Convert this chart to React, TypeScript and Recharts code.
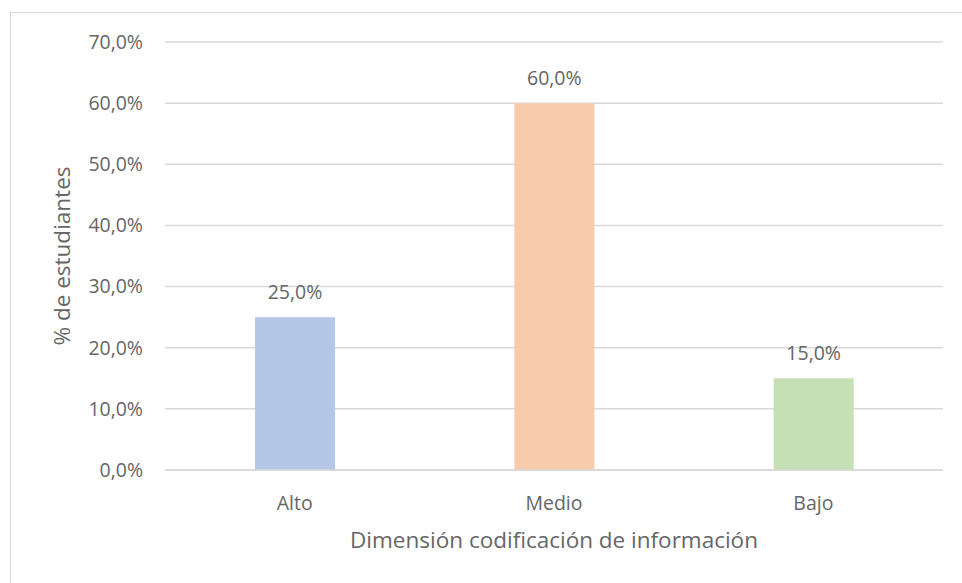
import React from 'react';
import { BarChart, Bar, XAxis, YAxis, CartesianGrid, Cell, LabelList, Label } from 'recharts';

const categories = ['Alto', 'Medio', 'Bajo'];
const values = [0.25, 0.6, 0.15];
const barColors = ['#b4c7e7', '#f8cbad', '#c5e0b4'];
const yTicks = [0, 0.1, 0.2, 0.3, 0.4, 0.5, 0.6, 0.7];
const xTitle = 'Dimensión codificación de información';
const yTitle = '% de estudiantes';

const data = categories.map((c, i) => ({ name: c, value: values[i] }));
const fmt = (v: number) => (v * 100).toFixed(1).replace('.', ',') + '%';

const FONT = '"Open Sans", Lato, sans-serif';
const TEXT = '#666666';
const TICK_SIZE = 19.5;
const TITLE_SIZE = 22.5;

export default function App() {
  return (
    <div style={{ position: 'absolute', left: 0, top: 0, width: 962, height: 583, background: '#fff', fontFamily: FONT }}>
      <div style={{ position: 'absolute', left: 10, top: 12, width: 952, height: 571, borderTop: '1px solid #d9d9d9', borderLeft: '1px solid #d9d9d9', boxSizing: 'border-box' }} />
      <div style={{ position: 'absolute', left: 0, top: 0 }}>
        <BarChart width={962} height={583} data={data} margin={{ top: 42, right: 19, bottom: 0, left: 0 }}>
          <CartesianGrid horizontal={true} vertical={false} stroke="#d9d9d9" strokeWidth={1.5} />
          <XAxis
            dataKey="name"
            height={113}
            axisLine={{ stroke: '#d9d9d9', strokeWidth: 1.5 }}
            tickLine={false}
            tickSize={0}
            tickMargin={26}
            tick={{ fill: TEXT, fontSize: TICK_SIZE, fontFamily: FONT }}
          >
            <Label value={xTitle} position="insideBottom" offset={35} fill={TEXT} fontSize={TITLE_SIZE} fontFamily={FONT} />
          </XAxis>
          <YAxis
            width={165}
            domain={[0, 0.7]}
            ticks={yTicks}
            tickFormatter={fmt}
            axisLine={false}
            tickLine={false}
            tickSize={0}
            tickMargin={22}
            tick={{ fill: TEXT, fontSize: TICK_SIZE, fontFamily: FONT }}
          >
            <Label value={yTitle} position="center" angle={-90} dx={-20} fill={TEXT} fontSize={TITLE_SIZE} fontFamily={FONT} />
          </YAxis>
          <Bar dataKey="value" barSize={80} isAnimationActive={false}>
            {data.map((d, i) => (
              <Cell key={d.name} fill={barColors[i]} />
            ))}
            <LabelList dataKey="value" position="top" offset={18} formatter={(v: any) => fmt(Number(v))} fill={TEXT} fontSize={TICK_SIZE} fontFamily={FONT} />
          </Bar>
        </BarChart>
      </div>
    </div>
  );
}
